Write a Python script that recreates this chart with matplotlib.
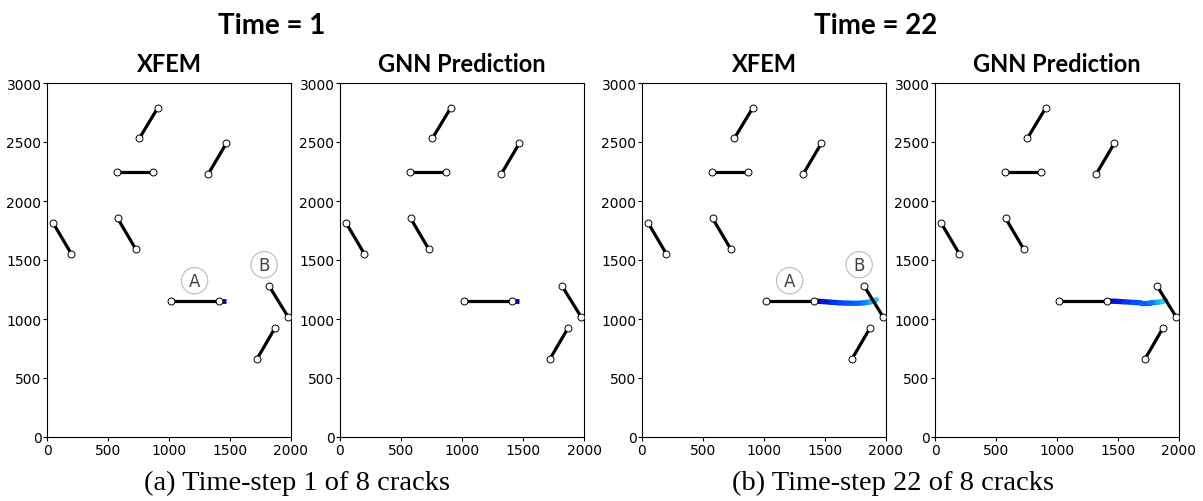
import matplotlib; matplotlib.use("Agg")
import matplotlib.pyplot as plt
import numpy as np
from matplotlib.collections import LineCollection
from matplotlib.colors import LinearSegmentedColormap

# static crack segments (x0, y0) -> (x1, y1)
crack_x0 = [757, 1320, 571, 52, 579, 1014, 1820, 1721]
crack_y0 = [2531, 2226, 2243, 1811, 1853, 1150, 1280, 661]
crack_x1 = [907, 1470, 871, 200, 727, 1410, 1975, 1869]
crack_y1 = [2788, 2489, 2243, 1551, 1593, 1150, 1020, 924]

# propagated part of crack A
tip1_x = [1410, 1440, 1465]
tip1_y = [1150, 1150, 1150]
xfem22_x = [1410, 1480, 1550, 1620, 1690, 1760, 1820, 1870, 1900, 1920]
xfem22_y = [1152, 1148, 1142, 1137, 1134, 1133, 1137, 1145, 1153, 1163]
gnn22_x = [1406, 1480, 1550, 1620, 1690, 1760, 1820, 1860, 1890]
gnn22_y = [1153, 1150, 1146, 1141, 1137, 1137, 1141, 1148, 1157]

label_txt = ["A", "B"]
label_x = [1210, 1780]
label_y = [1325, 1460]

ticks_x = [0, 500, 1000, 1500, 2000]
ticks_y = [0, 500, 1000, 1500, 2000, 2500, 3000]

cmap = LinearSegmentedColormap.from_list("tip", ["#0000c8", "#0040ff", "#0070ff", "#22d0f0"])

W, H = 1203, 502
fig = plt.figure(figsize=(W / 100, H / 100), dpi=100)
lefts = [47, 340, 642, 935]

def grow(ax, xs, ys):
    pts = np.column_stack([xs, ys])
    segs = np.stack([pts[:-1], pts[1:]], axis=1)
    lc = LineCollection(segs, cmap=cmap, linewidths=3.8, capstyle="round", zorder=2)
    lc.set_array(np.linspace(0, 1, len(segs)))
    ax.add_collection(lc)

for i, l in enumerate(lefts):
    ax = fig.add_axes([l / W, (H - 438) / H, 244 / W, 354 / H])
    ax.set_xlim(0, 2000); ax.set_ylim(0, 3000)
    ax.set_xticks(ticks_x); ax.set_yticks(ticks_y)
    ax.tick_params(labelsize=10, length=3, pad=1)
    if i < 2:
        ax.plot(tip1_x, tip1_y, color="#0000b4", lw=3.5, solid_capstyle="butt", zorder=2)
    elif i == 2:
        grow(ax, xfem22_x, xfem22_y)
    else:
        grow(ax, gnn22_x, gnn22_y)
    for x0, y0, x1, y1 in zip(crack_x0, crack_y0, crack_x1, crack_y1):
        ax.plot([x0, x1], [y0, y1], color="black", lw=2.3, zorder=3)
        ax.plot([x0, x1], [y0, y1], "o", ms=5, mfc="white", mec="black", mew=0.7, zorder=4)
    if i in (0, 2):
        for t, x, y in zip(label_txt, label_x, label_y):
            ax.text(x, y, t, fontsize=12, color="#444444", ha="center", va="center",
                    bbox=dict(boxstyle="circle,pad=0.25", fc="white", ec="#bbbbbb", lw=0.8))
    ax.set_title("XFEM" if i % 2 == 0 else "GNN Prediction",
                 fontsize=17, fontweight="bold", family="Lato", pad=9)

fig.text(272 / W, 1 - 26 / H, "Time = 1", fontsize=20, fontweight="bold", family="Lato",
         ha="center", va="center")
fig.text(876 / W, 1 - 26 / H, "Time = 22", fontsize=20, fontweight="bold", family="Lato",
         ha="center", va="center")
fig.text(297 / W, 1 - 483 / H, "(a) Time-step 1 of 8 cracks", fontsize=20.5,
         family="Liberation Serif", ha="center", va="center")
fig.text(893 / W, 1 - 483 / H, "(b) Time-step 22 of 8 cracks", fontsize=20.5,
         family="Liberation Serif", ha="center", va="center")

plt.savefig("out.png", dpi=100)
